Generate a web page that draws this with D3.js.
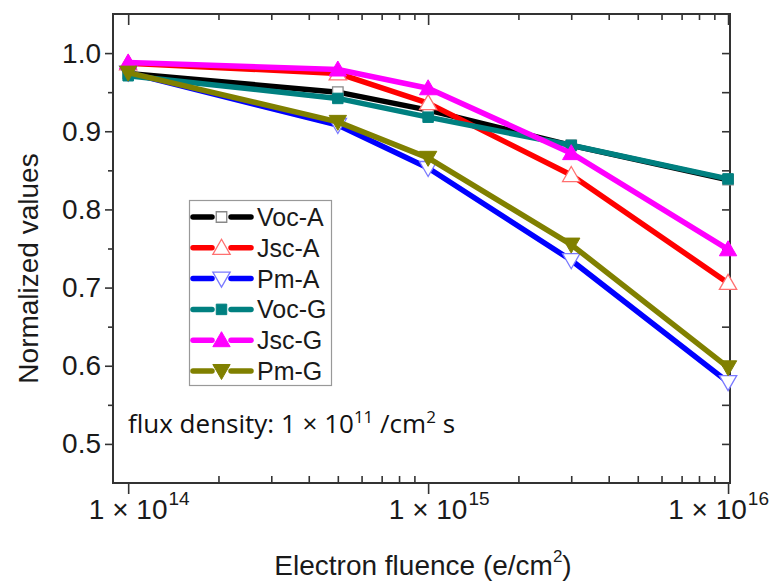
<!DOCTYPE html>
<html>
<head>
<meta charset="utf-8">
<script src="https://cdn.jsdelivr.net/npm/d3@7"></script>
<style>
  body { margin: 0; background: #fff; }
  svg { display: block; font-family: "Liberation Sans", Arial, sans-serif; }
  .axis path { display: none; }
  .axis line { stroke: #333; stroke-width: 1.6; }
</style>
</head>
<body>
<svg id="chart" width="772" height="584"></svg>
<script>
// data
const fluence = [1e14, 5e14, 1e15, 3e15, 1e16]
const vocA = [0.974, 0.950, 0.927, 0.882, 0.838]
const jscA = [0.987, 0.974, 0.936, 0.844, 0.706]
const pmA  = [0.975, 0.908, 0.853, 0.735, 0.579]
const vocG = [0.971, 0.942, 0.918, 0.882, 0.839]
const jscG = [0.988, 0.979, 0.955, 0.872, 0.749]
const pmG  = [0.975, 0.912, 0.866, 0.755, 0.598]

const seriesNames = ['Voc-A', 'Jsc-A', 'Pm-A', 'Voc-G', 'Jsc-G', 'Pm-G']
const yTicks = [0.5, 0.6, 0.7, 0.8, 0.9, 1.0]
const yMinor = [0.55, 0.65, 0.75, 0.85, 0.95]
const xTicks = [1e14, 1e15, 1e16]
const xExponents = ['14', '15', '16']

const series = [
  { name: seriesNames[0], values: vocA, color: '#000000', edge: '#888888', shape: 'square', open: true },
  { name: seriesNames[1], values: jscA, color: '#ff0000', edge: '#ff7070', shape: 'up', open: true },
  { name: seriesNames[2], values: pmA,  color: '#0000ff', edge: '#7a7aff', shape: 'down', open: true },
  { name: seriesNames[3], values: vocG, color: '#008080', edge: '#008080', shape: 'square', open: false },
  { name: seriesNames[4], values: jscG, color: '#ff00ff', edge: '#ff00ff', shape: 'up', open: false },
  { name: seriesNames[5], values: pmG,  color: '#808000', edge: '#808000', shape: 'down', open: false },
]

const plotL = 113, plotR = 730, plotT = 14, plotB = 483

const x = d3.scaleLog().domain([8.9e13, 1.015e16]).range([plotL, plotR])
const y = d3.scaleLinear().domain([0.45, 1.05]).range([plotB, plotT])

const xMinor = []
;[1e14, 1e15].forEach(d => { for (let k = 2; k < 10; k++) xMinor.push(k * d) })

const svg = d3.select('#chart')

// axes
svg.append('g').attr('class', 'axis')
    .attr('transform', `translate(0,${plotB})`)
    .call(d3.axisBottom(x).tickValues(xTicks).tickSize(11).tickFormat(''))
svg.append('g').attr('class', 'axis')
    .attr('transform', `translate(0,${plotB})`)
    .call(d3.axisBottom(x).tickValues(xMinor).tickSize(-7).tickFormat(''))
svg.append('g').attr('class', 'axis')
    .attr('transform', `translate(0,${plotT})`)
    .call(d3.axisTop(x).tickValues(xTicks).tickSize(-11).tickFormat(''))
svg.append('g').attr('class', 'axis')
    .attr('transform', `translate(0,${plotT})`)
    .call(d3.axisTop(x).tickValues(xMinor).tickSize(-6).tickFormat(''))

const yAxis = svg.append('g').attr('class', 'axis')
    .attr('transform', `translate(${plotL},0)`)
    .call(d3.axisLeft(y).tickValues(yTicks).tickSize(8).tickPadding(4).tickFormat(d3.format('.1f')))
yAxis.selectAll('text')
    .style('font-size', '28px')
    .style('fill', '#1a1a1a')
svg.append('g').attr('class', 'axis')
    .attr('transform', `translate(${plotL},0)`)
    .call(d3.axisLeft(y).tickValues(yMinor).tickSize(5).tickFormat(''))
svg.append('g').attr('class', 'axis')
    .attr('transform', `translate(${plotR},0)`)
    .call(d3.axisRight(y).tickValues(yTicks.concat(yMinor)).tickSize(-8).tickFormat(''))

svg.append('rect')
    .attr('x', plotL).attr('y', plotT)
    .attr('width', plotR - plotL).attr('height', plotB - plotT)
    .attr('fill', 'none')
    .attr('stroke', '#333')
    .attr('stroke-width', 2)

// x tick labels: "1 × 10" centred on the tick, exponent hanging right,
// pulled left if it would run off the page
xTicks.forEach((t, i) => {
  const base = svg.append('text')
      .attr('y', 519)
      .style('font-size', '28px')
      .style('fill', '#1a1a1a')
      .text('1 \u00d7 10')
  const sup = svg.append('text')
      .attr('y', 505)
      .style('font-size', '19px')
      .style('fill', '#1a1a1a')
      .text(xExponents[i])
  const w = base.node().getComputedTextLength()
  const sw = sup.node().getComputedTextLength()
  const x0 = Math.min(x(t) - w / 2, 769 - (w + 1 + sw))
  base.attr('x', x0)
  sup.attr('x', x0 + w + 1)
})

// axis titles
svg.append('text')
    .attr('transform', `translate(38,${(plotT + plotB) / 2 + 20}) rotate(-90)`)
    .attr('text-anchor', 'middle')
    .style('font-size', '28px')
    .style('fill', '#1a1a1a')
    .text('Normalized values')

const xTitle = svg.append('text')
    .attr('x', 423)
    .attr('y', 575)
    .attr('text-anchor', 'middle')
    .style('font-size', '28px')
    .style('fill', '#1a1a1a')
xTitle.append('tspan').text('Electron fluence (e/cm')
xTitle.append('tspan').attr('dy', -13).style('font-size', '17px').text('2')
xTitle.append('tspan').attr('dy', 13).text(')')

// series
const line = d3.line()
    .x((d, i) => x(fluence[i]))
    .y(d => y(d))

function symbolPath(shape) {
  if (shape === 'square') return d3.symbol(d3.symbolSquare, 110)()
  return d3.symbol(d3.symbolTriangle, 130)()
}

function drawMarker(g, s, cx, cy) {
  const rot = s.shape === 'down' ? 180 : 0
  const dy = s.shape === 'up' ? 1.5 : s.shape === 'down' ? -1.5 : 0
  g.append('path')
      .attr('d', symbolPath(s.shape))
      .attr('transform', `translate(${cx},${cy + dy}) rotate(${rot})`)
      .attr('fill', s.open ? '#fff' : s.color)
      .attr('stroke', s.edge)
      .attr('stroke-width', s.open ? 1.3 : 1)
}

series.forEach(s => {
  const g = svg.append('g')
  g.append('path')
      .datum(s.values)
      .attr('d', line)
      .attr('fill', 'none')
      .attr('stroke', s.color)
      .attr('stroke-width', 5.5)
      .attr('stroke-linejoin', 'round')
  s.values.forEach((v, i) => drawMarker(g, s, x(fluence[i]), y(v)))
})

// legend
const legend = svg.append('g')
legend.append('rect')
    .attr('x', 189.5).attr('y', 200.5)
    .attr('width', 142).attr('height', 185)
    .attr('fill', '#fff')
    .attr('stroke', '#999')
    .attr('stroke-width', 1.2)

series.forEach((s, i) => {
  const ly = 217 + i * 30.8
  const row = legend.append('g')
  ;[[193, 212], [231, 251]].forEach(([a, b]) => {
    row.append('line')
        .attr('x1', a).attr('x2', b)
        .attr('y1', ly).attr('y2', ly)
        .attr('stroke', s.color)
        .attr('stroke-width', 5.5)
        .attr('stroke-linecap', 'round')
  })
  drawMarker(row, s, 221.5, ly)
  row.append('text')
      .attr('x', 257)
      .attr('y', ly + 9)
      .style('font-size', '25px')
      .style('fill', '#1a1a1a')
      .text(s.name)
})

// annotation
const note = svg.append('text')
    .attr('x', 128)
    .attr('y', 433)
    .style('font-family', '"Open Sans", "Noto Sans", sans-serif')
    .style('font-size', '26px')
    .style('fill', '#111')
note.append('tspan').text('flux density: 1 \u00d7 10')
note.append('tspan').attr('dy', -10).style('font-size', '17px').text('11')
note.append('tspan').attr('dy', 10).text(' /cm')
note.append('tspan').attr('dy', -10).style('font-size', '17px').text('2')
note.append('tspan').attr('dy', 10).text(' s')
</script>
</body>
</html>
